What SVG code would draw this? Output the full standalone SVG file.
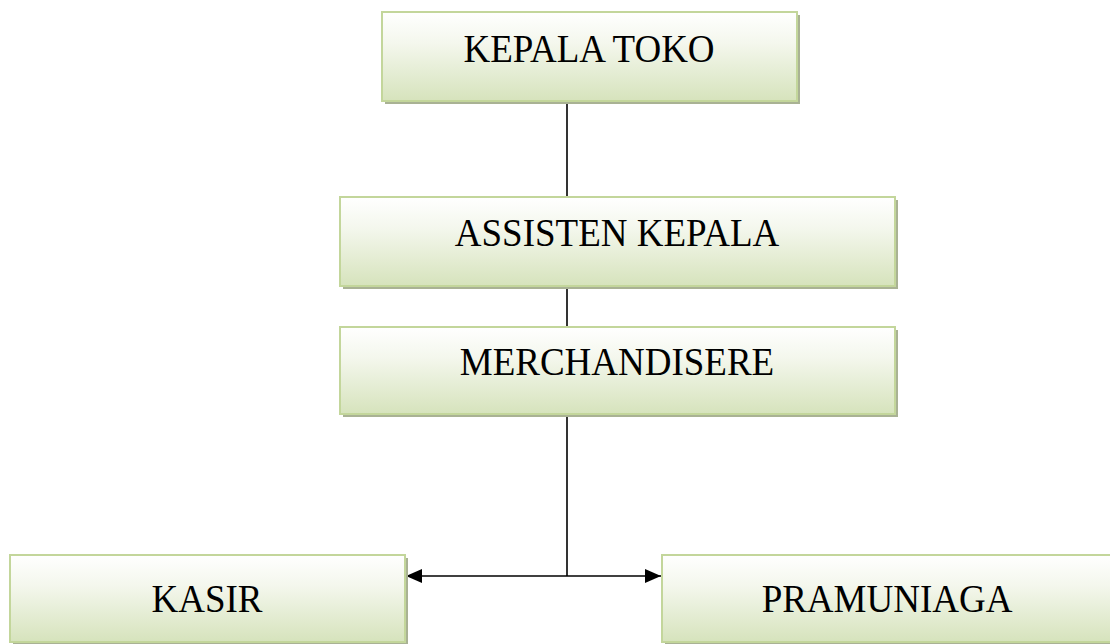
<svg xmlns="http://www.w3.org/2000/svg" width="1110" height="644" viewBox="0 0 1110 644">
<style>
.box{fill:url(#g);stroke:#c3d69b;stroke-width:2}
.sh{fill:#a9b294}
.t{font-family:"Liberation Serif","Times New Roman",serif;font-size:37px;fill:#000;text-anchor:middle}
.ln{stroke:#000;stroke-width:1.6;fill:none}
</style>
<defs>
<linearGradient id="g" x1="0" y1="0" x2="0" y2="1">
<stop offset="0" stop-color="#ffffff"/>
<stop offset="0.35" stop-color="#f4f7ed"/>
<stop offset="1" stop-color="#d6e3bc"/>
</linearGradient>
<marker id="a" viewBox="0 0 16 14" refX="16" refY="7" markerWidth="16" markerHeight="14" markerUnits="userSpaceOnUse" orient="auto-start-reverse">
<path d="M0,0 L16,7 L0,14 Z" fill="#000"/>
</marker>
</defs>
<g id="connectors">
<line class="ln" x1="567" y1="102" x2="567" y2="197"/>
<line class="ln" x1="567" y1="288" x2="567" y2="327"/>
<line class="ln" x1="567" y1="415" x2="567" y2="576"/>
<line class="ln" x1="406" y1="576" x2="661" y2="576" marker-start="url(#a)" marker-end="url(#a)"/>
</g>
<g id="kepala-toko">
<rect class="sh" x="385" y="15" width="415" height="89"/>
<rect class="box" x="382" y="12" width="415" height="89"/>
<text class="t" transform="translate(589,62) scale(1,1.08)">KEPALA TOKO</text>
</g>
<g id="assisten-kepala">
<rect class="sh" x="343" y="200" width="555" height="89"/>
<rect class="box" x="340" y="197" width="555" height="89"/>
<text class="t" transform="translate(617,246) scale(1,1.08)">ASSISTEN KEPALA</text>
</g>
<g id="merchandisere">
<rect class="sh" x="343" y="330" width="555" height="87"/>
<rect class="box" x="340" y="327" width="555" height="87"/>
<text class="t" transform="translate(617,375) scale(1,1.08)">MERCHANDISERE</text>
</g>
<g id="kasir">
<rect class="sh" x="13" y="558" width="395" height="87"/>
<rect class="box" x="10" y="555" width="395" height="87"/>
<text class="t" transform="translate(207,612) scale(1,1.08)">KASIR</text>
</g>
<g id="pramuniaga">
<rect class="sh" x="665" y="558" width="455" height="87"/>
<rect class="box" x="662" y="555" width="455" height="87"/>
<text class="t" transform="translate(887,612) scale(1,1.08)">PRAMUNIAGA</text>
</g>
</svg>
